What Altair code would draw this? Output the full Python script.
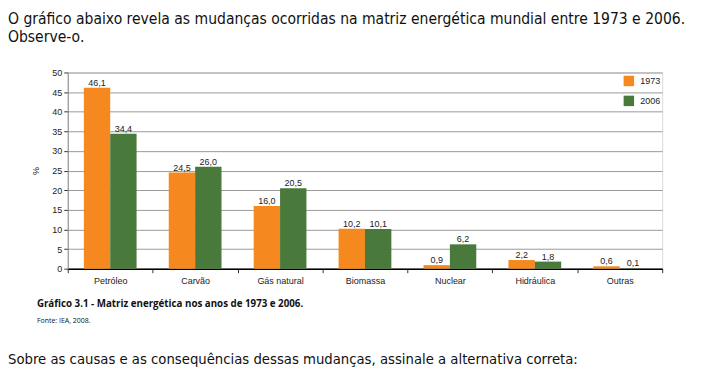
import altair as alt
import pandas as pd

categories = ["Petróleo", "Carvão", "Gás natural", "Biomassa", "Nuclear", "Hidráulica", "Outras"]
values_1973 = [46.1, 24.5, 16.0, 10.2, 0.9, 2.2, 0.6]
values_2006 = [34.4, 26.0, 20.5, 10.1, 6.2, 1.8, 0.1]
years = ["1973", "2006"]
colors = ["#F5891F", "#4A7A3B"]
y_ticks = [0, 5, 10, 15, 20, 25, 30, 35, 40, 45, 50]

rows = []
for c, a, b in zip(categories, values_1973, values_2006):
    rows.append({"cat": c, "ano": years[0], "v": a})
    rows.append({"cat": c, "ano": years[1], "v": b})
df = pd.DataFrame(rows)

FONT = "Liberation Sans"
COND = "Liberation Sans Narrow, DejaVu Sans Condensed, Roboto Condensed, Roboto"

yaxis = alt.Axis(values=y_ticks, labelFont=FONT, labelFontSize=9,
                 labelColor="#222", gridColor="#999", domainColor="#888",
                 tickColor="#333", tickSize=4, titleFont=FONT, titleFontSize=9,
                 titleFontWeight="normal", titleColor="#222", titlePadding=11)

base = alt.Chart(df).encode(
    x=alt.X("cat:N", sort=categories, title=None,
            scale=alt.Scale(paddingInner=0, paddingOuter=0),
            axis=alt.Axis(labelAngle=0, tickBand="extent", labelFont=FONT, labelFontSize=9,
                          labelColor="#222", domainColor="#000", domainWidth=1.5,
                          tickColor="#333", tickSize=4, labelPadding=4)),
    xOffset=alt.XOffset("ano:N", scale=alt.Scale(paddingInner=0, paddingOuter=0.61)),
    y=alt.Y("v:Q", title="%", scale=alt.Scale(domain=[0, 50]), axis=yaxis),
)

bars = base.mark_bar().encode(
    color=alt.Color("ano:N", scale=alt.Scale(domain=years, range=colors),
                    legend=alt.Legend(title=None, orient="none", legendX=558, legendY=3,
                                      symbolType="square", symbolSize=110, symbolStrokeWidth=0,
                                      labelFont=FONT, labelFontSize=9, labelColor="#222",
                                      rowPadding=9, labelOffset=6)),
)

labels = base.mark_text(dy=-5, font=FONT, fontSize=9, color="#222").transform_calculate(
    lab="replace(format(datum.v, '.1f'), '.', ',')"
).encode(text="lab:N")

def txt(s, x, y, size, weight="normal", font=COND, color="#111"):
    return alt.Chart(pd.DataFrame({"t": [s]})).mark_text(
        align="left", baseline="alphabetic", font=font, fontSize=size, fontWeight=weight, color=color
    ).encode(x=alt.value(x), y=alt.value(y), text="t:N")

head1 = txt("O gráfico abaixo revela as mudanças ocorridas na matriz energética mundial entre 1973 e 2006.", -60, -49, 15.6)
head2 = txt("Observe-o.", -60, -31, 15.6)
cap = txt("Gráfico 3.1 - Matriz energética nos anos de 1973 e 2006.", -31, 235, 9.8, weight="bold", font="Open Sans")
fonte = txt("Fonte: IEA, 2008.", -31, 252, 7, font="Open Sans")
bottom = txt("Sobre as causas e as consequências dessas mudanças, assinale a alternativa correta:", -60, 293, 14.8)

chart = alt.layer(bars, labels, head1, head2, cap, fonte, bottom).properties(
    width=597, height=197,
    padding={"left": 60, "top": 64, "right": 48, "bottom": 102},
    autosize=alt.AutoSizeParams(type="none"),
).configure_view(stroke="#999", strokeWidth=1).configure(background="white")

chart.save("out.html", embed_options={"renderer": "svg", "actions": False})
